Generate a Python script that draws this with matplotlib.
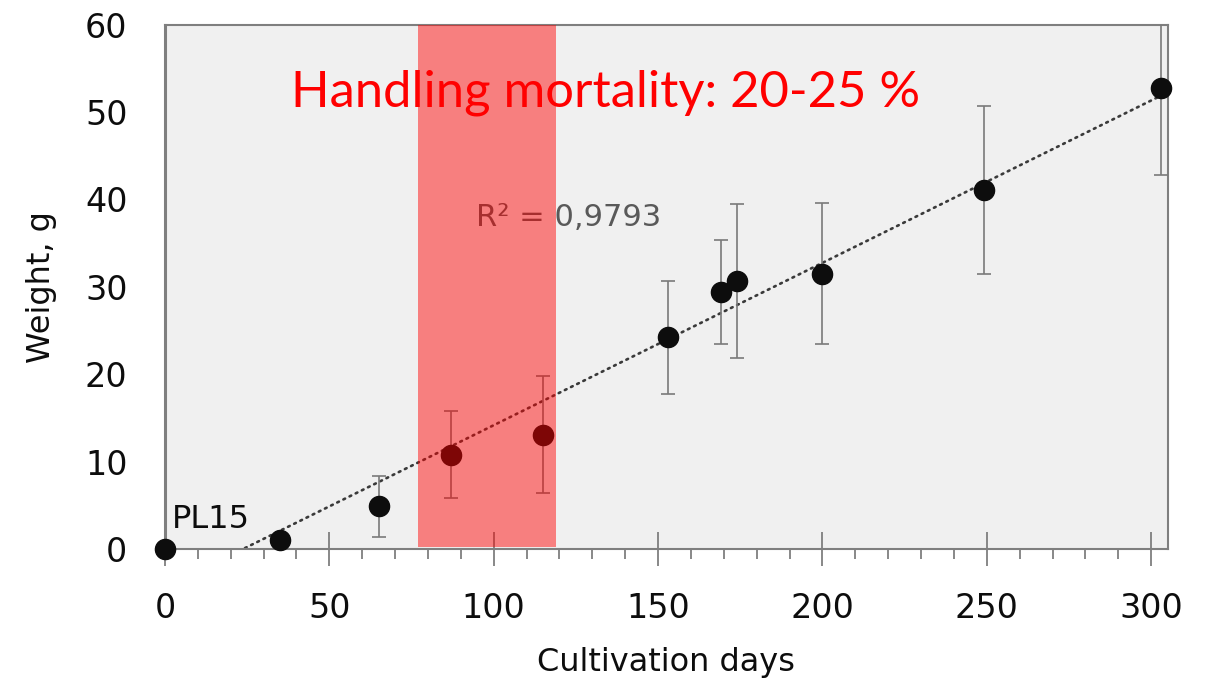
import numpy as np
import matplotlib
matplotlib.use("Agg")
import matplotlib.pyplot as plt
from matplotlib.ticker import MultipleLocator

# Crecimiento: peso medio (g) vs días de cultivo, con desviación estándar
dias = [0, 35, 65, 87, 115, 153, 169, 174, 200, 249, 303]
peso = [0.0, 1.0, 4.9, 10.8, 13.1, 24.2, 29.4, 30.7, 31.5, 41.1, 52.7]
desv = [0.0, 0.0, 3.5, 5.0, 6.7, 6.5, 5.9, 8.8, 8.1, 9.6, 9.9]

# ventana de manipulación (mortalidad alta)
ventana = (77, 119)
r2_texto = "R² = 0,9793"
titulo_rojo = "Handling mortality: 20-25 %"

plt.rcParams["font.family"] = ["DejaVu Sans"]

fig = plt.figure(figsize=(12.07, 6.81), dpi=100)
ax = fig.add_axes([0.1367, 0.1938, 0.8307, 0.7702])
ax.set_facecolor("#f0f0f0")

# barras de error recortadas al área, puntos sin recortar
ax.errorbar(dias, peso, yerr=desv, fmt="none", ecolor="#7a7a7a",
            elinewidth=1.2, capsize=4.8, capthick=1.2, zorder=3)
ax.plot(dias, peso, "o", color="#0d0d0d", ms=14.5, zorder=3, clip_on=False)

# tendencia lineal
m, b = np.polyfit(dias, peso, 1)
xs = np.array([0, dias[-1]])
ax.plot(xs, m * xs + b, color="#3a3a3a", lw=1.9, ls=(0, (0.7, 1.9)),
        dash_capstyle="round", zorder=2)

ax.text(94.5, 37.9, r2_texto, color="#595959", fontsize=22,
        ha="left", va="center", zorder=2)

ax.axvspan(ventana[0], ventana[1], ymin=0.004, ymax=1, color="#ff0000",
           alpha=0.47, lw=0, zorder=4)

ax.text(134, 52.2, titulo_rojo, color="#ff0000", fontsize=36.5,
        family=["Lato", "DejaVu Sans"],
        ha="center", va="center", zorder=5)
ax.text(2.0, 3.4, "PL15", color="#0d0d0d", fontsize=23,
        ha="left", va="center", zorder=5)

ax.set_xlim(0, 305)
ax.set_ylim(0, 60)
ax.xaxis.set_major_locator(MultipleLocator(50))
ax.xaxis.set_minor_locator(MultipleLocator(10))
ax.yaxis.set_major_locator(MultipleLocator(10))

ax.tick_params(axis="x", which="major", direction="inout", length=24,
               width=1.3, color="#7f7f7f", labelsize=24, pad=19,
               labelcolor="#0d0d0d")
ax.tick_params(axis="x", which="minor", direction="out", length=7,
               width=1.3, color="#7f7f7f")
ax.tick_params(axis="y", which="both", length=0, labelsize=24, pad=27,
               labelcolor="#0d0d0d")

for lado in ["top", "right", "bottom"]:
    ax.spines[lado].set_color("#7f7f7f")
    ax.spines[lado].set_linewidth(1.5)
ax.spines["left"].set_color("#7f7f7f")
ax.spines["left"].set_linewidth(2.2)

ax.set_xlabel("Cultivation days", fontsize=23, color="#0d0d0d", labelpad=16)
ax.set_ylabel("Weight, g", fontsize=23, color="#0d0d0d", labelpad=20)

fig.savefig("out.png", dpi=100)
